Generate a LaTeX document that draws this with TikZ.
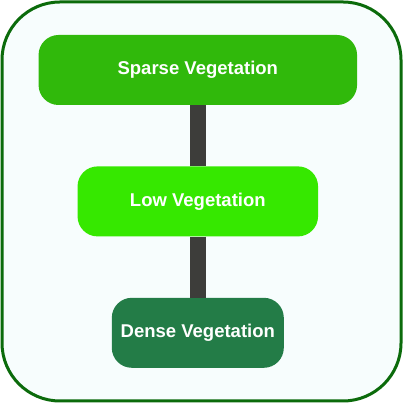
\documentclass[tikz,border=0pt]{standalone}
\usepackage{fontspec}
\setmainfont{Liberation Sans}
\usepackage{xcolor}
\usetikzlibrary{positioning}
\definecolor{framegreen}{HTML}{0B6B0B}
\definecolor{panelbg}{HTML}{F7FDFD}
\definecolor{sparsegreen}{HTML}{30B90B}
\definecolor{lowgreen}{HTML}{36E800}
\definecolor{densegreen}{HTML}{237C47}
\definecolor{stemgray}{HTML}{3D3D3A}
\tikzset{
  veg/.style={rounded corners=20pt, minimum height=70pt, inner sep=0pt, text=white, font=\fontsize{18.5}{21}\selectfont\bfseries},
  vegs/.style={veg, fill=sparsegreen, minimum width=318.5pt},
  vegl/.style={veg, fill=lowgreen, minimum width=240.5pt},
  vegd/.style={veg, fill=densegreen, minimum width=172pt},
  stem/.style={line width=16.5pt, draw=stemgray},
}
\begin{document}
\begin{tikzpicture}
    \useasboundingbox (0,0) rectangle (403pt,403pt);
    \draw[line width=3pt, draw=framegreen, fill=panelbg, rounded corners=58pt] (2pt,2pt) rectangle (401pt,401pt);
    \node[vegs] (sparse) at (197.8pt,333pt) {Sparse Vegetation};
    \node[vegl, below=61pt of sparse] (low) {Low Vegetation};
    \node[vegd, below=61pt of low] (dense) {Dense Vegetation};
    \draw[stem] (sparse) -- (low);
    \draw[stem] (low) -- (dense);
  \end{tikzpicture}
\end{document}
